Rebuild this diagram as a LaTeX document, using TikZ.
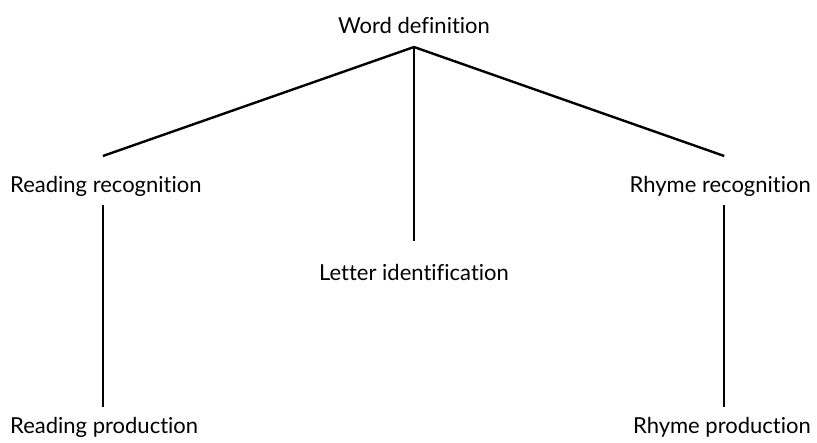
\documentclass[tikz,border=0pt]{standalone}
\usepackage{fontspec}
\setmainfont{Lato}[Ligatures=NoCommon]
\usetikzlibrary{calc}

\begin{document}
\begin{tikzpicture}[x=1pt,y=-1pt]
  \tikzset{lbl/.style={inner sep=0pt, font=\fontsize{22}{26}\selectfont},
           twig/.style={line width=2.4pt}}
  \useasboundingbox (0,0) rectangle (817,442);
  % labels
  \node[lbl,anchor=base] (wd) at (414,33) {Word definition};
  \node[lbl,anchor=base west] (rr) at (10,192) {Reading recognition};
  \node[lbl,anchor=base east] (hr) at (811,192) {Rhyme recognition};
  \node[lbl,anchor=base] (li) at (414,280) {Letter identification};
  \node[lbl,anchor=base west] (rp) at (10,433) {Reading production};
  \node[lbl,anchor=base east] (hp) at (811,433) {Rhyme production};
  % branches
  \coordinate (apex) at ($(wd.base)+(0,14)$);
  \coordinate (rrtop) at ($(rr.base)+(-3,-36)$);
  \coordinate (hrtop) at ($(hr.base)+(4,-36)$);
  \coordinate (rrbot) at ($(rr.base)+(-3,13)$);
  \coordinate (hrbot) at ($(hr.base)+(4,13)$);
  \draw[twig] (apex) -- (rrtop);
  \draw[twig] (apex) -- (hrtop);
  \draw[twig] (apex) -- ($(li.base)+(0,-39)$);
  \draw[twig] (rrbot) -- (rrbot |- {$(rp.base)+(0,-26)$});
  \draw[twig] (hrbot) -- (hrbot |- {$(hp.base)+(0,-26)$});
\end{tikzpicture}
\end{document}
